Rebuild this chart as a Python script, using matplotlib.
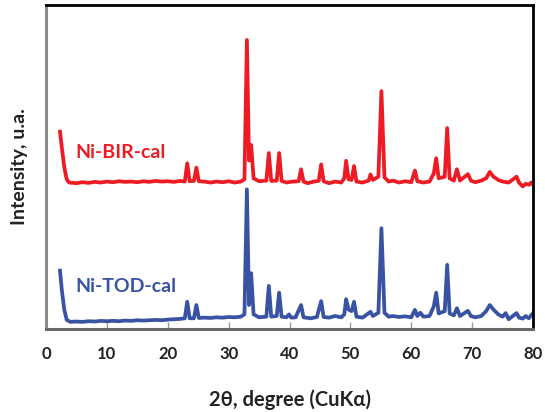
import matplotlib
matplotlib.use("Agg")
import matplotlib.pyplot as plt

plt.rcParams['font.family'] = ['Lato', 'DejaVu Sans']

# ---- data (2theta in degrees, intensity in arbitrary units) ----
bir_angle = [2.3, 2.6, 3.0, 3.4, 3.8, 5, 6, 7, 8, 9, 10, 11, 12, 13, 14, 15, 16, 17, 18, 19, 20,
             21, 22, 22.8, 23.2, 23.6, 24.3, 24.7, 25.1, 26, 27, 28, 29, 30, 31, 32, 32.6, 33.0,
             33.35, 33.7, 34.1, 35, 36.2, 36.6, 37.0, 37.9, 38.3, 38.7, 39.5, 40.5, 41.5, 41.9,
             42.3, 43, 44, 44.8, 45.2, 45.6, 46.5, 47.5, 48.5, 49.0, 49.3, 49.7, 50.2, 50.6, 51.0,
             52, 53.0, 53.3, 53.7, 54.6, 55.1, 55.6, 56.3, 57, 58, 59, 60, 60.6, 61.0, 62, 63,
             63.7, 64.1, 64.5, 65.5, 65.9, 66.3, 67.0, 67.5, 68.0, 69.3, 69.8, 70.5, 71.5, 72.3,
             72.9, 73.5, 74.3, 75, 76, 77.3, 77.7, 78.3, 78.8, 79.3, 79.7, 80]
bir_int = [609, 560, 500, 462, 452, 450, 453, 451, 454, 452, 455, 453, 456, 454, 455, 453, 456, 454,
           457, 455, 456, 454, 457, 455, 511, 456, 457, 498, 456, 455, 452, 455, 453, 456, 452, 455,
           462, 892, 520, 568, 465, 456, 458, 543, 457, 458, 543, 457, 452, 455, 456, 493, 455, 450,
           455, 457, 508, 456, 450, 455, 452, 465, 519, 462, 460, 503, 455, 452, 458, 477, 460, 470,
           734, 468, 455, 458, 452, 456, 453, 489, 456, 452, 455, 480, 527, 465, 470, 620, 465, 458,
           493, 458, 478, 458, 453, 458, 465, 485, 470, 460, 455, 452, 470, 452, 440, 448, 445, 452,
           445]

tod_angle = [2.3, 2.6, 3.0, 3.4, 4, 5, 6, 7, 8, 9, 10, 11, 12, 13, 14, 15, 16, 17, 18, 19, 20,
             21, 22, 22.8, 23.2, 23.6, 24.3, 24.7, 25.1, 26, 27, 28, 29, 30, 31, 32, 32.6, 33.0,
             33.35, 33.7, 34.1, 35, 36.2, 36.6, 37.0, 37.9, 38.3, 38.7, 39.5, 39.9, 40.3, 41, 41.9,
             42.3, 43.5, 44.5, 45.2, 45.6, 46.5, 47.5, 48.5, 49.0, 49.3, 49.7, 50.2, 50.6, 51.0,
             52, 53.3, 53.7, 54.6, 55.1, 55.6, 56.3, 57, 58, 59, 60, 60.6, 61.0, 61.5, 62, 63,
             63.7, 64.1, 64.5, 65.5, 65.9, 66.3, 67.0, 67.5, 68.0, 69.3, 69.8, 70.5, 71.5, 72.3,
             72.9, 73.5, 74.3, 75, 75.5, 76, 77.3, 77.7, 78.3, 78.8, 79.3, 80]
tod_int = [180, 120, 60, 28, 22, 23, 22, 24, 23, 25, 24, 25, 24, 26, 25, 27, 26, 27, 28, 27, 29,
           30, 31, 33, 84, 33, 33, 74, 34, 35, 34, 36, 35, 37, 36, 38, 45, 431, 74, 172, 45, 36,
           38, 133, 38, 40, 112, 38, 36, 45, 35, 36, 74, 36, 33, 37, 86, 37, 35, 40, 36, 45, 92,
           60, 55, 84, 38, 35, 53, 40, 50, 311, 50, 38, 40, 37, 39, 36, 59, 40, 50, 38, 40, 70,
           112, 48, 55, 198, 48, 42, 64, 40, 56, 40, 36, 40, 55, 74, 60, 45, 38, 49, 30, 49, 35,
           32, 40, 33, 49]

series_labels = ["Ni-BIR-cal", "Ni-TOD-cal"]
x_ticks = [0, 10, 20, 30, 40, 50, 60, 70, 80]

red = '#ED1C24'
blue = '#3953A4'

fig = plt.figure(figsize=(5.45, 4.12), dpi=100)
ax = fig.add_axes([0.0844, 0.2015, 0.8936, 0.7864])

ax.plot(bir_angle, bir_int, color=red, lw=2.7, solid_joinstyle='round')
ax.plot(tod_angle, tod_int, color=blue, lw=2.7, solid_joinstyle='round')

ax.set_xlim(0, 80)
ax.set_ylim(0, 1000)
ax.set_xticks(x_ticks)
ax.set_xticklabels([str(t) for t in x_ticks], fontweight='bold', fontsize=12, color='#222222')
ax.set_yticks([])
ax.tick_params(axis='x', direction='in', length=5, width=1, color='#999999', pad=12)

for s in ['top', 'right']:
    ax.spines[s].set_color('black')
    ax.spines[s].set_linewidth(2)
ax.spines['left'].set_color('#8c8c8c')
ax.spines['left'].set_linewidth(2.2)
ax.spines['bottom'].set_color('#6a6a6a')
ax.spines['bottom'].set_linewidth(2.2)

ax.text(4.9, 546, series_labels[0], color=red, fontsize=14, fontweight='bold', va='center', ha='left')
ax.text(4.9, 130, series_labels[1], color=blue, fontsize=14, fontweight='bold', va='center', ha='left')

ax.set_xlabel('2θ, degree (CuKα)', fontsize=14.5, fontweight='bold', labelpad=20, color='#222222')
ax.set_ylabel('Intensity, u.a.', fontsize=14, fontweight='bold', labelpad=13, color='#222222')

fig.savefig('out.png', dpi=100)
